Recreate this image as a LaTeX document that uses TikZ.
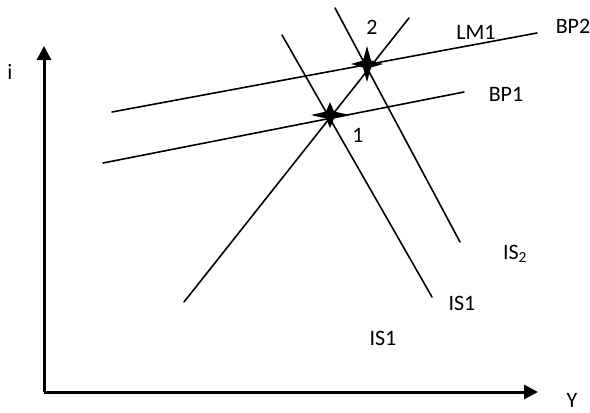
\documentclass[tikz,border=0pt]{standalone}
\usepackage{fontspec}
\setmainfont{Carlito}
\usetikzlibrary{arrows.meta}
\tikzset{
  curve/.style={line width=1.6pt, line cap=round},
  axis/.style={line width=3pt, -{Triangle[length=14pt,width=14pt]}},
  lbl/.style={font=\fontsize{22}{26}\selectfont, inner sep=0pt},
}
\begin{document}
\begin{tikzpicture}[x=1pt,y=-1pt]
\useasboundingbox (0,0) rectangle (590,413);
% axes
\coordinate (O) at (44,392);
\coordinate (ytop) at (44,46);
\coordinate (xend) at (538,392);
\draw[axis] (O) -- (ytop);
\draw[axis] (O) -- (xend);
\node[lbl] (ilab) at (10,72) {i};
\node[lbl] (Ylab) at (572,400) {Y};
% BP2
\coordinate (bp2a) at (112,112);
\coordinate (bp2b) at (537,33);
\draw[curve] (bp2a) -- (bp2b);
% BP1
\coordinate (bp1a) at (103,163);
\coordinate (bp1b) at (464,92);
\draw[curve] (bp1a) -- (bp1b);
% LM1
\coordinate (lma) at (184,302);
\coordinate (lmb) at (409,18);
\draw[curve] (lma) -- (lmb);
% IS1
\coordinate (is1a) at (282,35);
\coordinate (is1b) at (432,297);
\draw[curve] (is1a) -- (is1b);
% IS2
\coordinate (is2a) at (335,8);
\coordinate (is2b) at (460,242);
\draw[curve] (is2a) -- (is2b);
% stars
\coordinate (s1) at (330,115);
\coordinate (s2) at (367,64);
\fill[shift={(s1)}] (-19,0) -- (-4,-3.5) -- (0,-13) -- (4,-3.5) -- (20,0) -- (4,3.5) -- (0,13) -- (-4,3.5) -- cycle;
\fill[shift={(s2)}] (-16,0) -- (-4,-3.5) -- (0,-18) -- (4,-3.5) -- (16,0) -- (4,3.5) -- (0,18) -- (-4,3.5) -- cycle;
% labels
\node[lbl] (n1) at (358,135) {1};
\node[lbl] (n2) at (372,27) {2};
\node[lbl] (lmlab) at (476,32) {LM1};
\node[lbl] (bp2lab) at (573,26) {BP2};
\node[lbl] (bp1lab) at (506,94) {BP1};
\node[lbl] (is2lab) at (515,254) {IS\textsubscript{2}};
\node[lbl] (is1lab) at (462,303) {IS1};
\node[lbl] (is1lab2) at (383,338) {IS1};
\end{tikzpicture}
\end{document}
